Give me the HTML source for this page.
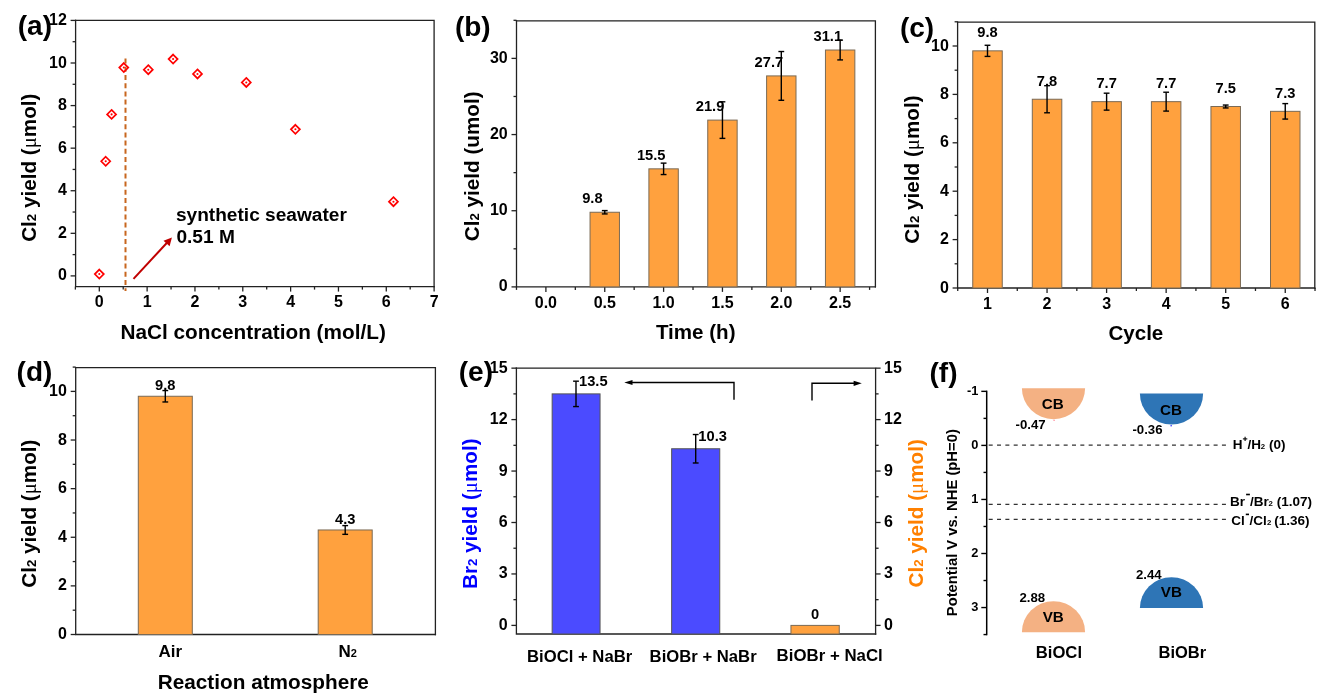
<!DOCTYPE html>
<html><head><meta charset="utf-8"><style>
html,body{margin:0;padding:0;background:#fff;width:1321px;height:700px;overflow:hidden}
svg{display:block;filter:grayscale(0)}
text{font-family:"Liberation Sans", sans-serif}
</style></head><body>
<svg width="1321" height="700" viewBox="0 0 1321 700">
<rect width="1321" height="700" fill="#fff"/>
<path d="M75.6,20.4 V286.6 H434.1" fill="none" stroke="#222" stroke-width="1.3" stroke-linecap="square"/>
<path d="M75.6,20.4 H434.1 V286.6" fill="none" stroke="#222" stroke-width="1.3" stroke-linecap="square"/>
<line x1="75.6" y1="275.9" x2="70.6" y2="275.9" stroke="#222" stroke-width="1.3" />
<line x1="75.6" y1="233.32" x2="70.6" y2="233.32" stroke="#222" stroke-width="1.3" />
<line x1="75.6" y1="190.74" x2="70.6" y2="190.74" stroke="#222" stroke-width="1.3" />
<line x1="75.6" y1="148.16" x2="70.6" y2="148.16" stroke="#222" stroke-width="1.3" />
<line x1="75.6" y1="105.58" x2="70.6" y2="105.58" stroke="#222" stroke-width="1.3" />
<line x1="75.6" y1="63" x2="70.6" y2="63" stroke="#222" stroke-width="1.3" />
<line x1="75.6" y1="20.42" x2="70.6" y2="20.42" stroke="#222" stroke-width="1.3" />
<line x1="75.6" y1="254.61" x2="72.6" y2="254.61" stroke="#222" stroke-width="1.3" />
<line x1="75.6" y1="212.03" x2="72.6" y2="212.03" stroke="#222" stroke-width="1.3" />
<line x1="75.6" y1="169.45" x2="72.6" y2="169.45" stroke="#222" stroke-width="1.3" />
<line x1="75.6" y1="126.87" x2="72.6" y2="126.87" stroke="#222" stroke-width="1.3" />
<line x1="75.6" y1="84.29" x2="72.6" y2="84.29" stroke="#222" stroke-width="1.3" />
<line x1="75.6" y1="41.71" x2="72.6" y2="41.71" stroke="#222" stroke-width="1.3" />
<text transform="translate(66.8,280.4) scale(1.0,1)" font-size="16" text-anchor="end" fill="#000" font-weight="bold" >0</text>
<text transform="translate(66.8,237.82) scale(1.0,1)" font-size="16" text-anchor="end" fill="#000" font-weight="bold" >2</text>
<text transform="translate(66.8,195.24) scale(1.0,1)" font-size="16" text-anchor="end" fill="#000" font-weight="bold" >4</text>
<text transform="translate(66.8,152.66) scale(1.0,1)" font-size="16" text-anchor="end" fill="#000" font-weight="bold" >6</text>
<text transform="translate(66.8,110.08) scale(1.0,1)" font-size="16" text-anchor="end" fill="#000" font-weight="bold" >8</text>
<text transform="translate(66.8,67.5) scale(1.0,1)" font-size="16" text-anchor="end" fill="#000" font-weight="bold" >10</text>
<text transform="translate(66.8,24.92) scale(1.0,1)" font-size="16" text-anchor="end" fill="#000" font-weight="bold" >12</text>
<line x1="99.3" y1="286.6" x2="99.3" y2="291.6" stroke="#222" stroke-width="1.3" />
<line x1="147.13" y1="286.6" x2="147.13" y2="291.6" stroke="#222" stroke-width="1.3" />
<line x1="194.96" y1="286.6" x2="194.96" y2="291.6" stroke="#222" stroke-width="1.3" />
<line x1="242.79" y1="286.6" x2="242.79" y2="291.6" stroke="#222" stroke-width="1.3" />
<line x1="290.62" y1="286.6" x2="290.62" y2="291.6" stroke="#222" stroke-width="1.3" />
<line x1="338.45" y1="286.6" x2="338.45" y2="291.6" stroke="#222" stroke-width="1.3" />
<line x1="386.28" y1="286.6" x2="386.28" y2="291.6" stroke="#222" stroke-width="1.3" />
<line x1="434.11" y1="286.6" x2="434.11" y2="291.6" stroke="#222" stroke-width="1.3" />
<line x1="75.38" y1="286.6" x2="75.38" y2="289.6" stroke="#222" stroke-width="1.3" />
<line x1="123.22" y1="286.6" x2="123.22" y2="289.6" stroke="#222" stroke-width="1.3" />
<line x1="171.05" y1="286.6" x2="171.05" y2="289.6" stroke="#222" stroke-width="1.3" />
<line x1="218.88" y1="286.6" x2="218.88" y2="289.6" stroke="#222" stroke-width="1.3" />
<line x1="266.7" y1="286.6" x2="266.7" y2="289.6" stroke="#222" stroke-width="1.3" />
<line x1="314.53" y1="286.6" x2="314.53" y2="289.6" stroke="#222" stroke-width="1.3" />
<line x1="362.37" y1="286.6" x2="362.37" y2="289.6" stroke="#222" stroke-width="1.3" />
<line x1="410.19" y1="286.6" x2="410.19" y2="289.6" stroke="#222" stroke-width="1.3" />
<text transform="translate(99.3,307.4) scale(1.0,1)" font-size="16" text-anchor="middle" fill="#000" font-weight="bold" >0</text>
<text transform="translate(147.13,307.4) scale(1.0,1)" font-size="16" text-anchor="middle" fill="#000" font-weight="bold" >1</text>
<text transform="translate(194.96,307.4) scale(1.0,1)" font-size="16" text-anchor="middle" fill="#000" font-weight="bold" >2</text>
<text transform="translate(242.79,307.4) scale(1.0,1)" font-size="16" text-anchor="middle" fill="#000" font-weight="bold" >3</text>
<text transform="translate(290.62,307.4) scale(1.0,1)" font-size="16" text-anchor="middle" fill="#000" font-weight="bold" >4</text>
<text transform="translate(338.45,307.4) scale(1.0,1)" font-size="16" text-anchor="middle" fill="#000" font-weight="bold" >5</text>
<text transform="translate(386.28,307.4) scale(1.0,1)" font-size="16" text-anchor="middle" fill="#000" font-weight="bold" >6</text>
<text transform="translate(434.11,307.4) scale(1.0,1)" font-size="16" text-anchor="middle" fill="#000" font-weight="bold" >7</text>
<line x1="125.5" y1="58.6" x2="125.5" y2="291" stroke="#C8661E" stroke-width="2" stroke-dasharray="5,3.2"/>
<path d="M99.3,269.57 L103.8,274.07 L99.3,278.57 L94.8,274.07 Z" fill="none" stroke="#FF0000" stroke-width="1.7"/>
<circle cx="99.3" cy="274.07" r="1.05" fill="#FF0000"/>
<path d="M105.71,156.73 L110.21,161.23 L105.71,165.73 L101.21,161.23 Z" fill="none" stroke="#FF0000" stroke-width="1.7"/>
<circle cx="105.71" cy="161.23" r="1.05" fill="#FF0000"/>
<path d="M111.59,109.9 L116.09,114.4 L111.59,118.9 L107.09,114.4 Z" fill="none" stroke="#FF0000" stroke-width="1.7"/>
<circle cx="111.59" cy="114.4" r="1.05" fill="#FF0000"/>
<path d="M123.79,63.06 L128.29,67.56 L123.79,72.06 L119.29,67.56 Z" fill="none" stroke="#FF0000" stroke-width="1.7"/>
<circle cx="123.79" cy="67.56" r="1.05" fill="#FF0000"/>
<path d="M148.28,65.19 L152.78,69.69 L148.28,74.19 L143.78,69.69 Z" fill="none" stroke="#FF0000" stroke-width="1.7"/>
<circle cx="148.28" cy="69.69" r="1.05" fill="#FF0000"/>
<path d="M173.1,54.54 L177.6,59.04 L173.1,63.54 L168.6,59.04 Z" fill="none" stroke="#FF0000" stroke-width="1.7"/>
<circle cx="173.1" cy="59.04" r="1.05" fill="#FF0000"/>
<path d="M197.49,69.44 L201.99,73.94 L197.49,78.44 L192.99,73.94 Z" fill="none" stroke="#FF0000" stroke-width="1.7"/>
<circle cx="197.49" cy="73.94" r="1.05" fill="#FF0000"/>
<path d="M246.28,77.96 L250.78,82.46 L246.28,86.96 L241.78,82.46 Z" fill="none" stroke="#FF0000" stroke-width="1.7"/>
<circle cx="246.28" cy="82.46" r="1.05" fill="#FF0000"/>
<path d="M295.4,124.8 L299.9,129.3 L295.4,133.8 L290.9,129.3 Z" fill="none" stroke="#FF0000" stroke-width="1.7"/>
<circle cx="295.4" cy="129.3" r="1.05" fill="#FF0000"/>
<path d="M393.45,197.19 L397.95,201.69 L393.45,206.19 L388.95,201.69 Z" fill="none" stroke="#FF0000" stroke-width="1.7"/>
<circle cx="393.45" cy="201.69" r="1.05" fill="#FF0000"/>
<line x1="133.5" y1="278.9" x2="167" y2="242.7" stroke="#C00000" stroke-width="2"/>
<path d="M171.9,237.5 L163.5,240.8 L169.6,246.2 Z" fill="#C00000"/>
<text transform="translate(175.9,220.6) scale(1.05,1)" font-size="18.2" text-anchor="start" fill="#000" font-weight="bold" >synthetic seawater</text>
<text transform="translate(176.4,243.4) scale(1.05,1)" font-size="18.2" text-anchor="start" fill="#000" font-weight="bold" >0.51 M</text>
<text transform="translate(17.7,35) scale(1.02,1)" font-size="27.5" text-anchor="start" fill="#000" font-weight="bold" >(a)</text>
<text transform="translate(253.15,338.6) scale(1.06,1)" font-size="19.6" text-anchor="middle" fill="#000" font-weight="bold" >NaCl concentration (mol/L)</text>
<text transform="translate(36.4,167.7) scale(1.0,1) rotate(-90)" font-size="20.7" text-anchor="middle" fill="#000" font-weight="bold">Cl<tspan font-size="13.2">2</tspan> yield (<tspan font-weight="normal" font-family="Liberation Serif, serif">μ</tspan>mol)</text>
<path d="M516.5,20.9 V286.9 H875.4" fill="none" stroke="#222" stroke-width="1.3" stroke-linecap="square"/>
<path d="M516.5,20.9 H875.4 V286.9" fill="none" stroke="#222" stroke-width="1.3" stroke-linecap="square"/>
<line x1="516.5" y1="286.9" x2="511.5" y2="286.9" stroke="#222" stroke-width="1.3" />
<line x1="516.5" y1="210.73" x2="511.5" y2="210.73" stroke="#222" stroke-width="1.3" />
<line x1="516.5" y1="134.56" x2="511.5" y2="134.56" stroke="#222" stroke-width="1.3" />
<line x1="516.5" y1="58.39" x2="511.5" y2="58.39" stroke="#222" stroke-width="1.3" />
<line x1="516.5" y1="248.81" x2="513.5" y2="248.81" stroke="#222" stroke-width="1.3" />
<line x1="516.5" y1="172.64" x2="513.5" y2="172.64" stroke="#222" stroke-width="1.3" />
<line x1="516.5" y1="96.47" x2="513.5" y2="96.47" stroke="#222" stroke-width="1.3" />
<line x1="516.5" y1="20.3" x2="513.5" y2="20.3" stroke="#222" stroke-width="1.3" />
<text transform="translate(507.7,291.4) scale(1.0,1)" font-size="16" text-anchor="end" fill="#000" font-weight="bold" >0</text>
<text transform="translate(507.7,215.23) scale(1.0,1)" font-size="16" text-anchor="end" fill="#000" font-weight="bold" >10</text>
<text transform="translate(507.7,139.06) scale(1.0,1)" font-size="16" text-anchor="end" fill="#000" font-weight="bold" >20</text>
<text transform="translate(507.7,62.89) scale(1.0,1)" font-size="16" text-anchor="end" fill="#000" font-weight="bold" >30</text>
<line x1="545.9" y1="286.9" x2="545.9" y2="291.9" stroke="#222" stroke-width="1.3" />
<line x1="604.75" y1="286.9" x2="604.75" y2="291.9" stroke="#222" stroke-width="1.3" />
<line x1="663.6" y1="286.9" x2="663.6" y2="291.9" stroke="#222" stroke-width="1.3" />
<line x1="722.45" y1="286.9" x2="722.45" y2="291.9" stroke="#222" stroke-width="1.3" />
<line x1="781.3" y1="286.9" x2="781.3" y2="291.9" stroke="#222" stroke-width="1.3" />
<line x1="840.15" y1="286.9" x2="840.15" y2="291.9" stroke="#222" stroke-width="1.3" />
<line x1="516.48" y1="286.9" x2="516.48" y2="289.9" stroke="#222" stroke-width="1.3" />
<line x1="575.32" y1="286.9" x2="575.32" y2="289.9" stroke="#222" stroke-width="1.3" />
<line x1="634.17" y1="286.9" x2="634.17" y2="289.9" stroke="#222" stroke-width="1.3" />
<line x1="693.02" y1="286.9" x2="693.02" y2="289.9" stroke="#222" stroke-width="1.3" />
<line x1="751.88" y1="286.9" x2="751.88" y2="289.9" stroke="#222" stroke-width="1.3" />
<line x1="810.72" y1="286.9" x2="810.72" y2="289.9" stroke="#222" stroke-width="1.3" />
<line x1="869.58" y1="286.9" x2="869.58" y2="289.9" stroke="#222" stroke-width="1.3" />
<text transform="translate(545.9,308) scale(1.0,1)" font-size="16" text-anchor="middle" fill="#000" font-weight="bold" >0.0</text>
<text transform="translate(604.75,308) scale(1.0,1)" font-size="16" text-anchor="middle" fill="#000" font-weight="bold" >0.5</text>
<text transform="translate(663.6,308) scale(1.0,1)" font-size="16" text-anchor="middle" fill="#000" font-weight="bold" >1.0</text>
<text transform="translate(722.45,308) scale(1.0,1)" font-size="16" text-anchor="middle" fill="#000" font-weight="bold" >1.5</text>
<text transform="translate(781.3,308) scale(1.0,1)" font-size="16" text-anchor="middle" fill="#000" font-weight="bold" >2.0</text>
<text transform="translate(840.15,308) scale(1.0,1)" font-size="16" text-anchor="middle" fill="#000" font-weight="bold" >2.5</text>
<rect x="590.05" y="212.25" width="29.4" height="74.65" fill="#FFA13E" stroke="#7a6a55" stroke-width="1"/>
<rect x="648.9" y="168.84" width="29.4" height="118.06" fill="#FFA13E" stroke="#7a6a55" stroke-width="1"/>
<rect x="707.75" y="120.09" width="29.4" height="166.81" fill="#FFA13E" stroke="#7a6a55" stroke-width="1"/>
<rect x="766.6" y="75.91" width="29.4" height="210.99" fill="#FFA13E" stroke="#7a6a55" stroke-width="1"/>
<rect x="825.45" y="50.01" width="29.4" height="236.89" fill="#FFA13E" stroke="#7a6a55" stroke-width="1"/>
<line x1="604.75" y1="210.58" x2="604.75" y2="213.93" stroke="#000" stroke-width="1.4" />
<line x1="601.85" y1="210.58" x2="607.65" y2="210.58" stroke="#000" stroke-width="1.4" />
<line x1="601.85" y1="213.93" x2="607.65" y2="213.93" stroke="#000" stroke-width="1.4" />
<text transform="translate(592.35,203.05) scale(1.05,1)" font-size="14" text-anchor="middle" fill="#000" font-weight="bold" >9.8</text>
<line x1="663.6" y1="163.12" x2="663.6" y2="174.55" stroke="#000" stroke-width="1.4" />
<line x1="660.7" y1="163.12" x2="666.5" y2="163.12" stroke="#000" stroke-width="1.4" />
<line x1="660.7" y1="174.55" x2="666.5" y2="174.55" stroke="#000" stroke-width="1.4" />
<text transform="translate(651.2,159.64) scale(1.05,1)" font-size="14" text-anchor="middle" fill="#000" font-weight="bold" >15.5</text>
<line x1="722.45" y1="101.81" x2="722.45" y2="138.37" stroke="#000" stroke-width="1.4" />
<line x1="719.55" y1="101.81" x2="725.35" y2="101.81" stroke="#000" stroke-width="1.4" />
<line x1="719.55" y1="138.37" x2="725.35" y2="138.37" stroke="#000" stroke-width="1.4" />
<text transform="translate(710.05,110.89) scale(1.05,1)" font-size="14" text-anchor="middle" fill="#000" font-weight="bold" >21.9</text>
<line x1="781.3" y1="51.53" x2="781.3" y2="100.28" stroke="#000" stroke-width="1.4" />
<line x1="778.4" y1="51.53" x2="784.2" y2="51.53" stroke="#000" stroke-width="1.4" />
<line x1="778.4" y1="100.28" x2="784.2" y2="100.28" stroke="#000" stroke-width="1.4" />
<text transform="translate(768.9,66.71) scale(1.05,1)" font-size="14" text-anchor="middle" fill="#000" font-weight="bold" >27.7</text>
<line x1="840.15" y1="40.11" x2="840.15" y2="59.91" stroke="#000" stroke-width="1.4" />
<line x1="837.25" y1="40.11" x2="843.05" y2="40.11" stroke="#000" stroke-width="1.4" />
<line x1="837.25" y1="59.91" x2="843.05" y2="59.91" stroke="#000" stroke-width="1.4" />
<text transform="translate(827.75,40.81) scale(1.05,1)" font-size="14" text-anchor="middle" fill="#000" font-weight="bold" >31.1</text>
<text transform="translate(454.9,36.2) scale(1.02,1)" font-size="27.5" text-anchor="start" fill="#000" font-weight="bold" >(b)</text>
<text transform="translate(695.7,338.8) scale(1.05,1)" font-size="19.6" text-anchor="middle" fill="#000" font-weight="bold" >Time (h)</text>
<text transform="translate(479.1,166.3) scale(1.0,1) rotate(-90)" font-size="20.7" text-anchor="middle" fill="#000" font-weight="bold">Cl<tspan font-size="13.2">2</tspan> yield (umol)</text>
<path d="M957.6,22.2 V288 H1314.8" fill="none" stroke="#222" stroke-width="1.3" stroke-linecap="square"/>
<path d="M957.6,22.2 H1314.8 V288" fill="none" stroke="#222" stroke-width="1.3" stroke-linecap="square"/>
<line x1="957.6" y1="288" x2="952.6" y2="288" stroke="#222" stroke-width="1.3" />
<line x1="957.6" y1="239.6" x2="952.6" y2="239.6" stroke="#222" stroke-width="1.3" />
<line x1="957.6" y1="191.2" x2="952.6" y2="191.2" stroke="#222" stroke-width="1.3" />
<line x1="957.6" y1="142.8" x2="952.6" y2="142.8" stroke="#222" stroke-width="1.3" />
<line x1="957.6" y1="94.4" x2="952.6" y2="94.4" stroke="#222" stroke-width="1.3" />
<line x1="957.6" y1="46" x2="952.6" y2="46" stroke="#222" stroke-width="1.3" />
<line x1="957.6" y1="263.8" x2="954.6" y2="263.8" stroke="#222" stroke-width="1.3" />
<line x1="957.6" y1="215.4" x2="954.6" y2="215.4" stroke="#222" stroke-width="1.3" />
<line x1="957.6" y1="167" x2="954.6" y2="167" stroke="#222" stroke-width="1.3" />
<line x1="957.6" y1="118.6" x2="954.6" y2="118.6" stroke="#222" stroke-width="1.3" />
<line x1="957.6" y1="70.2" x2="954.6" y2="70.2" stroke="#222" stroke-width="1.3" />
<line x1="957.6" y1="21.8" x2="954.6" y2="21.8" stroke="#222" stroke-width="1.3" />
<text transform="translate(948.8,292.5) scale(1.0,1)" font-size="16" text-anchor="end" fill="#000" font-weight="bold" >0</text>
<text transform="translate(948.8,244.1) scale(1.0,1)" font-size="16" text-anchor="end" fill="#000" font-weight="bold" >2</text>
<text transform="translate(948.8,195.7) scale(1.0,1)" font-size="16" text-anchor="end" fill="#000" font-weight="bold" >4</text>
<text transform="translate(948.8,147.3) scale(1.0,1)" font-size="16" text-anchor="end" fill="#000" font-weight="bold" >6</text>
<text transform="translate(948.8,98.9) scale(1.0,1)" font-size="16" text-anchor="end" fill="#000" font-weight="bold" >8</text>
<text transform="translate(948.8,50.5) scale(1.0,1)" font-size="16" text-anchor="end" fill="#000" font-weight="bold" >10</text>
<line x1="987.5" y1="288" x2="987.5" y2="293" stroke="#222" stroke-width="1.3" />
<line x1="1047.05" y1="288" x2="1047.05" y2="293" stroke="#222" stroke-width="1.3" />
<line x1="1106.6" y1="288" x2="1106.6" y2="293" stroke="#222" stroke-width="1.3" />
<line x1="1166.15" y1="288" x2="1166.15" y2="293" stroke="#222" stroke-width="1.3" />
<line x1="1225.7" y1="288" x2="1225.7" y2="293" stroke="#222" stroke-width="1.3" />
<line x1="1285.25" y1="288" x2="1285.25" y2="293" stroke="#222" stroke-width="1.3" />
<line x1="957.73" y1="288" x2="957.73" y2="291" stroke="#222" stroke-width="1.3" />
<line x1="1017.27" y1="288" x2="1017.27" y2="291" stroke="#222" stroke-width="1.3" />
<line x1="1076.83" y1="288" x2="1076.83" y2="291" stroke="#222" stroke-width="1.3" />
<line x1="1136.38" y1="288" x2="1136.38" y2="291" stroke="#222" stroke-width="1.3" />
<line x1="1195.92" y1="288" x2="1195.92" y2="291" stroke="#222" stroke-width="1.3" />
<line x1="1255.47" y1="288" x2="1255.47" y2="291" stroke="#222" stroke-width="1.3" />
<line x1="1315.03" y1="288" x2="1315.03" y2="291" stroke="#222" stroke-width="1.3" />
<text transform="translate(987.5,308.7) scale(1.0,1)" font-size="16" text-anchor="middle" fill="#000" font-weight="bold" >1</text>
<text transform="translate(1047.05,308.7) scale(1.0,1)" font-size="16" text-anchor="middle" fill="#000" font-weight="bold" >2</text>
<text transform="translate(1106.6,308.7) scale(1.0,1)" font-size="16" text-anchor="middle" fill="#000" font-weight="bold" >3</text>
<text transform="translate(1166.15,308.7) scale(1.0,1)" font-size="16" text-anchor="middle" fill="#000" font-weight="bold" >4</text>
<text transform="translate(1225.7,308.7) scale(1.0,1)" font-size="16" text-anchor="middle" fill="#000" font-weight="bold" >5</text>
<text transform="translate(1285.25,308.7) scale(1.0,1)" font-size="16" text-anchor="middle" fill="#000" font-weight="bold" >6</text>
<rect x="972.75" y="50.84" width="29.5" height="237.16" fill="#FFA13E" stroke="#7a6a55" stroke-width="1"/>
<rect x="1032.3" y="99.24" width="29.5" height="188.76" fill="#FFA13E" stroke="#7a6a55" stroke-width="1"/>
<rect x="1091.85" y="101.66" width="29.5" height="186.34" fill="#FFA13E" stroke="#7a6a55" stroke-width="1"/>
<rect x="1151.4" y="101.66" width="29.5" height="186.34" fill="#FFA13E" stroke="#7a6a55" stroke-width="1"/>
<rect x="1210.95" y="106.5" width="29.5" height="181.5" fill="#FFA13E" stroke="#7a6a55" stroke-width="1"/>
<rect x="1270.5" y="111.34" width="29.5" height="176.66" fill="#FFA13E" stroke="#7a6a55" stroke-width="1"/>
<line x1="987.5" y1="45.27" x2="987.5" y2="56.41" stroke="#000" stroke-width="1.4" />
<line x1="984.6" y1="45.27" x2="990.4" y2="45.27" stroke="#000" stroke-width="1.4" />
<line x1="984.6" y1="56.41" x2="990.4" y2="56.41" stroke="#000" stroke-width="1.4" />
<text transform="translate(987.5,37.34) scale(1.05,1)" font-size="14" text-anchor="middle" fill="#000" font-weight="bold" >9.8</text>
<line x1="1047.05" y1="85.69" x2="1047.05" y2="112.79" stroke="#000" stroke-width="1.4" />
<line x1="1044.15" y1="85.69" x2="1049.95" y2="85.69" stroke="#000" stroke-width="1.4" />
<line x1="1044.15" y1="112.79" x2="1049.95" y2="112.79" stroke="#000" stroke-width="1.4" />
<text transform="translate(1047.05,85.74) scale(1.05,1)" font-size="14" text-anchor="middle" fill="#000" font-weight="bold" >7.8</text>
<line x1="1106.6" y1="93.19" x2="1106.6" y2="110.13" stroke="#000" stroke-width="1.4" />
<line x1="1103.7" y1="93.19" x2="1109.5" y2="93.19" stroke="#000" stroke-width="1.4" />
<line x1="1103.7" y1="110.13" x2="1109.5" y2="110.13" stroke="#000" stroke-width="1.4" />
<text transform="translate(1106.6,88.16) scale(1.05,1)" font-size="14" text-anchor="middle" fill="#000" font-weight="bold" >7.7</text>
<line x1="1166.15" y1="92.22" x2="1166.15" y2="111.1" stroke="#000" stroke-width="1.4" />
<line x1="1163.25" y1="92.22" x2="1169.05" y2="92.22" stroke="#000" stroke-width="1.4" />
<line x1="1163.25" y1="111.1" x2="1169.05" y2="111.1" stroke="#000" stroke-width="1.4" />
<text transform="translate(1166.15,88.16) scale(1.05,1)" font-size="14" text-anchor="middle" fill="#000" font-weight="bold" >7.7</text>
<line x1="1225.7" y1="105.05" x2="1225.7" y2="107.95" stroke="#000" stroke-width="1.4" />
<line x1="1222.8" y1="105.05" x2="1228.6" y2="105.05" stroke="#000" stroke-width="1.4" />
<line x1="1222.8" y1="107.95" x2="1228.6" y2="107.95" stroke="#000" stroke-width="1.4" />
<text transform="translate(1225.7,93) scale(1.05,1)" font-size="14" text-anchor="middle" fill="#000" font-weight="bold" >7.5</text>
<line x1="1285.25" y1="103.6" x2="1285.25" y2="119.08" stroke="#000" stroke-width="1.4" />
<line x1="1282.35" y1="103.6" x2="1288.15" y2="103.6" stroke="#000" stroke-width="1.4" />
<line x1="1282.35" y1="119.08" x2="1288.15" y2="119.08" stroke="#000" stroke-width="1.4" />
<text transform="translate(1285.25,97.84) scale(1.05,1)" font-size="14" text-anchor="middle" fill="#000" font-weight="bold" >7.3</text>
<text transform="translate(899.9,37.4) scale(1.02,1)" font-size="27.5" text-anchor="start" fill="#000" font-weight="bold" >(c)</text>
<text transform="translate(1135.85,339.9) scale(1.05,1)" font-size="19.6" text-anchor="middle" fill="#000" font-weight="bold" >Cycle</text>
<text transform="translate(918.5,169.55) scale(1.0,1) rotate(-90)" font-size="20.7" text-anchor="middle" fill="#000" font-weight="bold">Cl<tspan font-size="13.2">2</tspan> yield (<tspan font-weight="normal" font-family="Liberation Serif, serif">μ</tspan>mol)</text>
<path d="M75.7,367.6 V634.5 H435.4" fill="none" stroke="#222" stroke-width="1.3" stroke-linecap="square"/>
<path d="M75.7,367.6 H435.4 V634.5" fill="none" stroke="#222" stroke-width="1.3" stroke-linecap="square"/>
<line x1="75.7" y1="634.5" x2="70.7" y2="634.5" stroke="#222" stroke-width="1.3" />
<line x1="75.7" y1="585.88" x2="70.7" y2="585.88" stroke="#222" stroke-width="1.3" />
<line x1="75.7" y1="537.26" x2="70.7" y2="537.26" stroke="#222" stroke-width="1.3" />
<line x1="75.7" y1="488.64" x2="70.7" y2="488.64" stroke="#222" stroke-width="1.3" />
<line x1="75.7" y1="440.02" x2="70.7" y2="440.02" stroke="#222" stroke-width="1.3" />
<line x1="75.7" y1="391.4" x2="70.7" y2="391.4" stroke="#222" stroke-width="1.3" />
<line x1="75.7" y1="610.19" x2="72.7" y2="610.19" stroke="#222" stroke-width="1.3" />
<line x1="75.7" y1="561.57" x2="72.7" y2="561.57" stroke="#222" stroke-width="1.3" />
<line x1="75.7" y1="512.95" x2="72.7" y2="512.95" stroke="#222" stroke-width="1.3" />
<line x1="75.7" y1="464.33" x2="72.7" y2="464.33" stroke="#222" stroke-width="1.3" />
<line x1="75.7" y1="415.71" x2="72.7" y2="415.71" stroke="#222" stroke-width="1.3" />
<line x1="75.7" y1="367.09" x2="72.7" y2="367.09" stroke="#222" stroke-width="1.3" />
<text transform="translate(66.9,639) scale(1.0,1)" font-size="16" text-anchor="end" fill="#000" font-weight="bold" >0</text>
<text transform="translate(66.9,590.38) scale(1.0,1)" font-size="16" text-anchor="end" fill="#000" font-weight="bold" >2</text>
<text transform="translate(66.9,541.76) scale(1.0,1)" font-size="16" text-anchor="end" fill="#000" font-weight="bold" >4</text>
<text transform="translate(66.9,493.14) scale(1.0,1)" font-size="16" text-anchor="end" fill="#000" font-weight="bold" >6</text>
<text transform="translate(66.9,444.52) scale(1.0,1)" font-size="16" text-anchor="end" fill="#000" font-weight="bold" >8</text>
<text transform="translate(66.9,395.9) scale(1.0,1)" font-size="16" text-anchor="end" fill="#000" font-weight="bold" >10</text>
<rect x="138.3" y="396.26" width="54" height="238.24" fill="#FFA13E" stroke="#7a6a55" stroke-width="1"/>
<rect x="318.2" y="529.97" width="54" height="104.53" fill="#FFA13E" stroke="#7a6a55" stroke-width="1"/>
<line x1="165.3" y1="390.55" x2="165.3" y2="401.97" stroke="#000" stroke-width="1.4" />
<line x1="162.4" y1="390.55" x2="168.2" y2="390.55" stroke="#000" stroke-width="1.4" />
<line x1="162.4" y1="401.97" x2="168.2" y2="401.97" stroke="#000" stroke-width="1.4" />
<text transform="translate(165.3,389.86) scale(1.05,1)" font-size="14" text-anchor="middle" fill="#000" font-weight="bold" >9.8</text>
<line x1="345.2" y1="525.59" x2="345.2" y2="534.34" stroke="#000" stroke-width="1.4" />
<line x1="342.3" y1="525.59" x2="348.1" y2="525.59" stroke="#000" stroke-width="1.4" />
<line x1="342.3" y1="534.34" x2="348.1" y2="534.34" stroke="#000" stroke-width="1.4" />
<text transform="translate(345.2,523.57) scale(1.05,1)" font-size="14" text-anchor="middle" fill="#000" font-weight="bold" >4.3</text>
<text transform="translate(158.6,656.6) scale(1.05,1)" font-size="16.2" text-anchor="start" fill="#000" font-weight="bold" >Air</text>
<text transform="translate(338.4,656.6) scale(1.05,1)" font-size="16.2" text-anchor="start" fill="#000" font-weight="bold" >N<tspan font-size="10.5">2</tspan></text>
<text transform="translate(16.6,381) scale(1.02,1)" font-size="27.5" text-anchor="start" fill="#000" font-weight="bold" >(d)</text>
<text transform="translate(263.25,689.1) scale(1.06,1)" font-size="19.6" text-anchor="middle" fill="#000" font-weight="bold" >Reaction atmosphere</text>
<text transform="translate(36.2,513.65) scale(1.0,1) rotate(-90)" font-size="20.7" text-anchor="middle" fill="#000" font-weight="bold">Cl<tspan font-size="13.2">2</tspan> yield (<tspan font-weight="normal" font-family="Liberation Serif, serif">μ</tspan>mol)</text>
<path d="M516.4,368.1 V634 H875.6" fill="none" stroke="#222" stroke-width="1.3" stroke-linecap="square"/>
<path d="M516.4,368.1 H875.6 V634" fill="none" stroke="#222" stroke-width="1.3" stroke-linecap="square"/>
<line x1="516.4" y1="625.4" x2="511.4" y2="625.4" stroke="#222" stroke-width="1.3" />
<line x1="516.4" y1="573.95" x2="511.4" y2="573.95" stroke="#222" stroke-width="1.3" />
<line x1="516.4" y1="522.5" x2="511.4" y2="522.5" stroke="#222" stroke-width="1.3" />
<line x1="516.4" y1="471.05" x2="511.4" y2="471.05" stroke="#222" stroke-width="1.3" />
<line x1="516.4" y1="419.6" x2="511.4" y2="419.6" stroke="#222" stroke-width="1.3" />
<line x1="516.4" y1="368.15" x2="511.4" y2="368.15" stroke="#222" stroke-width="1.3" />
<line x1="516.4" y1="599.67" x2="513.4" y2="599.67" stroke="#222" stroke-width="1.3" />
<line x1="516.4" y1="548.23" x2="513.4" y2="548.23" stroke="#222" stroke-width="1.3" />
<line x1="516.4" y1="496.77" x2="513.4" y2="496.77" stroke="#222" stroke-width="1.3" />
<line x1="516.4" y1="445.32" x2="513.4" y2="445.32" stroke="#222" stroke-width="1.3" />
<line x1="516.4" y1="393.88" x2="513.4" y2="393.88" stroke="#222" stroke-width="1.3" />
<text transform="translate(507.6,629.9) scale(1.0,1)" font-size="16" text-anchor="end" fill="#000" font-weight="bold" >0</text>
<text transform="translate(507.6,578.45) scale(1.0,1)" font-size="16" text-anchor="end" fill="#000" font-weight="bold" >3</text>
<text transform="translate(507.6,527) scale(1.0,1)" font-size="16" text-anchor="end" fill="#000" font-weight="bold" >6</text>
<text transform="translate(507.6,475.55) scale(1.0,1)" font-size="16" text-anchor="end" fill="#000" font-weight="bold" >9</text>
<text transform="translate(507.6,424.1) scale(1.0,1)" font-size="16" text-anchor="end" fill="#000" font-weight="bold" >12</text>
<text transform="translate(507.6,372.65) scale(1.0,1)" font-size="16" text-anchor="end" fill="#000" font-weight="bold" >15</text>
<line x1="875.6" y1="625.4" x2="880.6" y2="625.4" stroke="#222" stroke-width="1.3" />
<line x1="875.6" y1="573.95" x2="880.6" y2="573.95" stroke="#222" stroke-width="1.3" />
<line x1="875.6" y1="522.5" x2="880.6" y2="522.5" stroke="#222" stroke-width="1.3" />
<line x1="875.6" y1="471.05" x2="880.6" y2="471.05" stroke="#222" stroke-width="1.3" />
<line x1="875.6" y1="419.6" x2="880.6" y2="419.6" stroke="#222" stroke-width="1.3" />
<line x1="875.6" y1="368.15" x2="880.6" y2="368.15" stroke="#222" stroke-width="1.3" />
<line x1="875.6" y1="599.67" x2="878.6" y2="599.67" stroke="#222" stroke-width="1.3" />
<line x1="875.6" y1="548.23" x2="878.6" y2="548.23" stroke="#222" stroke-width="1.3" />
<line x1="875.6" y1="496.77" x2="878.6" y2="496.77" stroke="#222" stroke-width="1.3" />
<line x1="875.6" y1="445.32" x2="878.6" y2="445.32" stroke="#222" stroke-width="1.3" />
<line x1="875.6" y1="393.88" x2="878.6" y2="393.88" stroke="#222" stroke-width="1.3" />
<text transform="translate(884.1,629.9) scale(1.0,1)" font-size="16" text-anchor="start" fill="#000" font-weight="bold" >0</text>
<text transform="translate(884.1,578.45) scale(1.0,1)" font-size="16" text-anchor="start" fill="#000" font-weight="bold" >3</text>
<text transform="translate(884.1,527) scale(1.0,1)" font-size="16" text-anchor="start" fill="#000" font-weight="bold" >6</text>
<text transform="translate(884.1,475.55) scale(1.0,1)" font-size="16" text-anchor="start" fill="#000" font-weight="bold" >9</text>
<text transform="translate(884.1,424.1) scale(1.0,1)" font-size="16" text-anchor="start" fill="#000" font-weight="bold" >12</text>
<text transform="translate(884.1,372.65) scale(1.0,1)" font-size="16" text-anchor="start" fill="#000" font-weight="bold" >15</text>
<rect x="552.15" y="393.88" width="47.9" height="240.12" fill="#4B4BFF" stroke="#555" stroke-width="1"/>
<rect x="671.65" y="448.75" width="48.1" height="185.25" fill="#4B4BFF" stroke="#555" stroke-width="1"/>
<rect x="790.95" y="625.4" width="48.3" height="8.6" fill="#FFA13E" stroke="#7a6a55" stroke-width="1"/>
<line x1="576" y1="381.18" x2="576" y2="406.57" stroke="#000" stroke-width="1.4" />
<line x1="573.1" y1="381.18" x2="578.9" y2="381.18" stroke="#000" stroke-width="1.4" />
<line x1="573.1" y1="406.57" x2="578.9" y2="406.57" stroke="#000" stroke-width="1.4" />
<line x1="695.7" y1="434.52" x2="695.7" y2="462.99" stroke="#000" stroke-width="1.4" />
<line x1="692.8" y1="434.52" x2="698.6" y2="434.52" stroke="#000" stroke-width="1.4" />
<line x1="692.8" y1="462.99" x2="698.6" y2="462.99" stroke="#000" stroke-width="1.4" />
<text transform="translate(579,386) scale(1.05,1)" font-size="14" text-anchor="start" fill="#000" font-weight="bold" >13.5</text>
<text transform="translate(698.3,441) scale(1.05,1)" font-size="14" text-anchor="start" fill="#000" font-weight="bold" >10.3</text>
<text transform="translate(815.1,618.9) scale(1.05,1)" font-size="14" text-anchor="middle" fill="#000" font-weight="bold" >0</text>
<path d="M631,382.5 H734 V399.7" fill="none" stroke="#000" stroke-width="1.4"/>
<path d="M624.3,382.5 L632.5,379.9 L632.5,385.1 Z" fill="#000"/>
<path d="M812,400.5 V383.3 H855" fill="none" stroke="#000" stroke-width="1.4"/>
<path d="M861.8,383.3 L853.6,380.7 L853.6,385.9 Z" fill="#000"/>
<text transform="translate(527,661.7) scale(1.03,1)" font-size="16.2" text-anchor="start" fill="#000" font-weight="bold" >BiOCl + NaBr</text>
<text transform="translate(649.6,661.7) scale(1.03,1)" font-size="16.2" text-anchor="start" fill="#000" font-weight="bold" >BiOBr + NaBr</text>
<text transform="translate(776.6,661.2) scale(1.04,1)" font-size="16.2" text-anchor="start" fill="#000" font-weight="bold" >BiOBr + NaCl</text>
<text transform="translate(458.7,380.5) scale(1.02,1)" font-size="27.5" text-anchor="start" fill="#000" font-weight="bold" >(e)</text>
<text transform="translate(476.5,513.75) scale(1.0,1) rotate(-90)" font-size="20.7" text-anchor="middle" fill="#0000FF" font-weight="bold">Br<tspan font-size="13.2">2</tspan> yield (<tspan font-weight="normal" font-family="Liberation Serif, serif">μ</tspan>mol)</text>
<text transform="translate(923.2,513.35) scale(1.0,1) rotate(-90)" font-size="20.7" text-anchor="middle" fill="#FF8000" font-weight="bold">Cl<tspan font-size="13.2">2</tspan> yield (<tspan font-weight="normal" font-family="Liberation Serif, serif">μ</tspan>mol)</text>
<line x1="986.7" y1="390.65" x2="986.7" y2="635.27" stroke="#000" stroke-width="1.5" />
<line x1="986.7" y1="391.35" x2="981.3" y2="391.35" stroke="#000" stroke-width="1.4" />
<text transform="translate(978.3,394.95) scale(1.0,1)" font-size="12.8" text-anchor="end" fill="#000" font-weight="bold" >-1</text>
<line x1="986.7" y1="445.4" x2="981.3" y2="445.4" stroke="#000" stroke-width="1.4" />
<text transform="translate(978.3,449) scale(1.0,1)" font-size="12.8" text-anchor="end" fill="#000" font-weight="bold" >0</text>
<line x1="986.7" y1="499.45" x2="981.3" y2="499.45" stroke="#000" stroke-width="1.4" />
<text transform="translate(978.3,503.05) scale(1.0,1)" font-size="12.8" text-anchor="end" fill="#000" font-weight="bold" >1</text>
<line x1="986.7" y1="553.5" x2="981.3" y2="553.5" stroke="#000" stroke-width="1.4" />
<text transform="translate(978.3,557.1) scale(1.0,1)" font-size="12.8" text-anchor="end" fill="#000" font-weight="bold" >2</text>
<line x1="986.7" y1="607.55" x2="981.3" y2="607.55" stroke="#000" stroke-width="1.4" />
<text transform="translate(978.3,611.15) scale(1.0,1)" font-size="12.8" text-anchor="end" fill="#000" font-weight="bold" >3</text>
<line x1="986.7" y1="418.38" x2="983.5" y2="418.38" stroke="#000" stroke-width="1.4" />
<line x1="986.7" y1="472.42" x2="983.5" y2="472.42" stroke="#000" stroke-width="1.4" />
<line x1="986.7" y1="526.47" x2="983.5" y2="526.47" stroke="#000" stroke-width="1.4" />
<line x1="986.7" y1="580.52" x2="983.5" y2="580.52" stroke="#000" stroke-width="1.4" />
<line x1="986.7" y1="634.57" x2="983.5" y2="634.57" stroke="#000" stroke-width="1.4" />
<line x1="988.7" y1="445.1" x2="1228.6" y2="445.1" stroke="#333" stroke-width="1.1" stroke-dasharray="4,4.33"/>
<line x1="988.7" y1="504.4" x2="1228.2" y2="504.4" stroke="#333" stroke-width="1.1" stroke-dasharray="4,4.33"/>
<line x1="988.7" y1="519.4" x2="1228.2" y2="519.4" stroke="#333" stroke-width="1.1" stroke-dasharray="4,4.33"/>
<path d="M1021.9,388.2 A31.6,30.968 0 0 0 1085.1,388.2 Z" fill="#F4B183"/>
<path d="M1021.9,632.2 A31.6,30.968 0 0 1 1085.1,632.2 Z" fill="#F4B183"/>
<path d="M1139.9,393.6 A31.6,30.968 0 0 0 1203.1,393.6 Z" fill="#2E75B6"/>
<path d="M1139.9,608.1 A31.6,30.968 0 0 1 1203.1,608.1 Z" fill="#2E75B6"/>
<rect x="1053.4" y="419.7" width="1.4" height="1.3" fill="#FF9AA8"/>
<rect x="1170.4" y="425" width="1.6" height="1.4" fill="#5A5AFF"/>
<text transform="translate(1052.7,408.6) scale(1.05,1)" font-size="14.5" text-anchor="middle" fill="#000" font-weight="bold" >CB</text>
<text transform="translate(1171,414.7) scale(1.05,1)" font-size="14.5" text-anchor="middle" fill="#000" font-weight="bold" >CB</text>
<text transform="translate(1053.3,622.1) scale(1.05,1)" font-size="14.5" text-anchor="middle" fill="#000" font-weight="bold" >VB</text>
<text transform="translate(1171.4,597.1) scale(1.05,1)" font-size="14.5" text-anchor="middle" fill="#000" font-weight="bold" >VB</text>
<text transform="translate(1015.6,428.7) scale(1.05,1)" font-size="12.6" text-anchor="start" fill="#000" font-weight="bold" >-0.47</text>
<text transform="translate(1132.4,434) scale(1.05,1)" font-size="12.6" text-anchor="start" fill="#000" font-weight="bold" >-0.36</text>
<text transform="translate(1019.4,602.4) scale(1.05,1)" font-size="12.6" text-anchor="start" fill="#000" font-weight="bold" >2.88</text>
<text transform="translate(1136,579.4) scale(1.05,1)" font-size="12.6" text-anchor="start" fill="#000" font-weight="bold" >2.44</text>
<text transform="translate(1232.8,448.9) scale(1.0,1)" font-size="13.5" text-anchor="start" fill="#000" font-weight="bold" >H</text>
<text transform="translate(1247.4,448.9) scale(1.0,1)" font-size="13.5" text-anchor="start" fill="#000" font-weight="bold" >/H</text>
<text transform="translate(1260.8,448.9) scale(1.0,1)" font-size="7.8" text-anchor="start" fill="#000" font-weight="bold" >2</text>
<text transform="translate(1268.9,448.9) scale(1.0,1)" font-size="13.5" text-anchor="start" fill="#000" font-weight="bold" >(0)</text>
<line x1="1242.9" y1="438.9" x2="1247.3" y2="438.9" stroke="#000" stroke-width="1.1" />
<line x1="1245.1" y1="436.7" x2="1245.1" y2="441.1" stroke="#000" stroke-width="1.1" />
<text transform="translate(1230.1,505.8) scale(1.0,1)" font-size="13.5" text-anchor="start" fill="#000" font-weight="bold" >Br</text>
<text transform="translate(1250,505.8) scale(1.0,1)" font-size="13.5" text-anchor="start" fill="#000" font-weight="bold" >/Br</text>
<text transform="translate(1268.5,505.8) scale(1.0,1)" font-size="7.8" text-anchor="start" fill="#000" font-weight="bold" >2</text>
<text transform="translate(1276.7,505.8) scale(1.0,1)" font-size="13.5" text-anchor="start" fill="#000" font-weight="bold" >(1.07)</text>
<rect x="1246.1" y="493.7" width="3.8" height="1.6" fill="#000"/>
<text transform="translate(1231.2,524.8) scale(1.0,1)" font-size="13.5" text-anchor="start" fill="#000" font-weight="bold" >Cl</text>
<text transform="translate(1249.6,524.8) scale(1.0,1)" font-size="13.5" text-anchor="start" fill="#000" font-weight="bold" >/Cl</text>
<text transform="translate(1267,524.8) scale(1.0,1)" font-size="7.8" text-anchor="start" fill="#000" font-weight="bold" >2</text>
<text transform="translate(1274.3,524.8) scale(1.0,1)" font-size="13.5" text-anchor="start" fill="#000" font-weight="bold" >(1.36)</text>
<rect x="1245.8" y="513.6" width="3.2" height="1.6" fill="#000"/>
<text transform="translate(1035.7,657.5) scale(1.03,1)" font-size="16.2" text-anchor="start" fill="#000" font-weight="bold" >BiOCl</text>
<text transform="translate(1158.5,657.5) scale(1.02,1)" font-size="16.2" text-anchor="start" fill="#000" font-weight="bold" >BiOBr</text>
<text transform="translate(929.5,381.8) scale(1.02,1)" font-size="27.5" text-anchor="start" fill="#000" font-weight="bold" >(f)</text>
<text transform="translate(956.5,522.7) scale(1.0,1) rotate(-90)" font-size="14.8" text-anchor="middle" fill="#000" font-weight="bold">Potential V vs. NHE (pH=0)</text>
</svg></body></html>
